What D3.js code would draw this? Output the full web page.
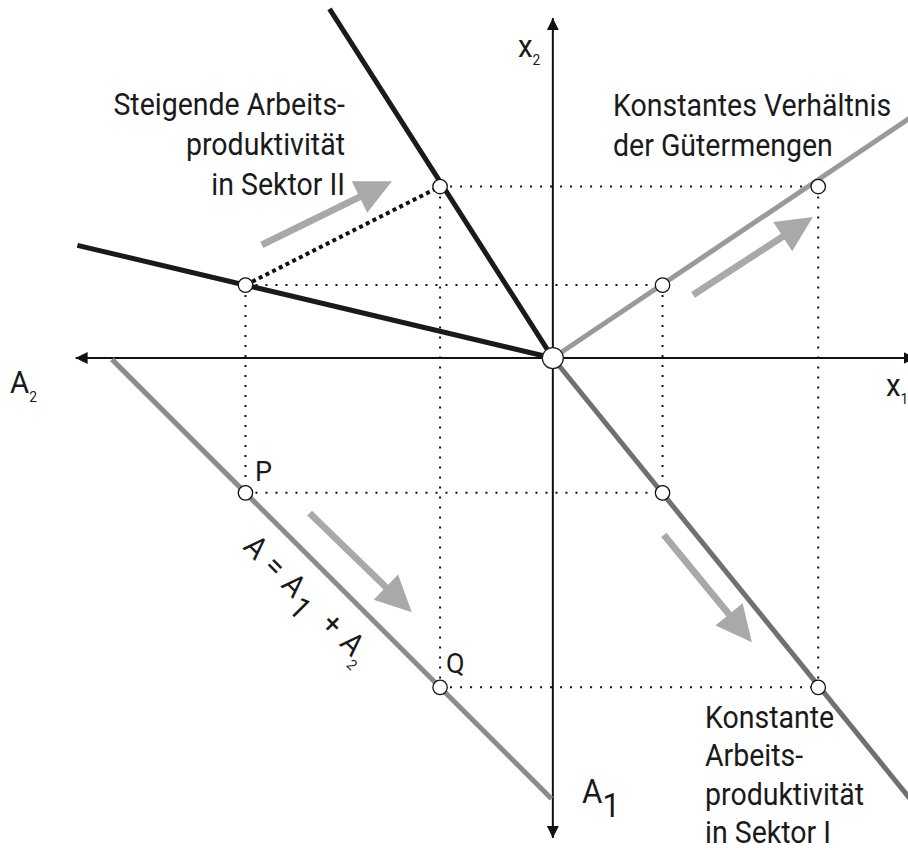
<!DOCTYPE html>
<html>
<head>
<meta charset="utf-8">
<script src="https://cdn.jsdelivr.net/npm/d3@7"></script>
<style>
  html, body { margin: 0; padding: 0; background: #ffffff; }
  svg { display: block; }
  text { font-family: Roboto, "Liberation Sans", sans-serif; fill: #1a1a1a; }
</style>
</head>
<body>
<svg id="chart" width="908" height="850"></svg>
<script>
(function () {
  'use strict';

  // --- Data (model units; horizontal: x1 right / A2 left, vertical: x2 up / A1 down) ---
  var laborII  = [6.95, 2.55];   // A2 before / after
  var laborI   = [3.05, 7.45];   // A1 before / after
  var outputI  = [2.48, 6.00];   // x1 before / after
  var outputII = [1.65, 3.88];   // x2 before / after

  // ray endpoints (start at origin)
  var raySektorIIold = [-10.75, 2.55];
  var raySektorIInew = [-5.05, 7.90];
  var rayRatio       = [8.10, 5.45];
  var raySektorI     = [8.10, -10.00];
  var budgetLine     = [[-9.97, -0.03], [-0.03, -9.97]];

  // gray direction arrows [start, tip]
  var moveArrows = [
    [[-6.58, 2.56], [-3.64, 4.00]],
    [[3.17, 1.43], [5.88, 3.19]],
    [[-5.50, -3.51], [-3.19, -5.75]],
    [[2.51, -4.00], [4.50, -6.43]]
  ];

  var W = 908, H = 850;
  var x = d3.scaleLinear().domain([-12.5, 8.03]).range([0, W]);
  var y = d3.scaleLinear().domain([8.1, -11.13]).range([0, H]);

  var svg = d3.select('#chart');
  var defs = svg.append('defs');
  defs.append('marker')
    .attr('id', 'axhead')
    .attr('viewBox', '0 0 12 12')
    .attr('refX', 12).attr('refY', 6)
    .attr('markerWidth', 12).attr('markerHeight', 12)
    .attr('markerUnits', 'userSpaceOnUse')
    .attr('orient', 'auto-start-reverse')
    .append('path')
    .attr('d', 'M0,0L12,6L0,12Z')
    .attr('fill', '#111');

  var gGrid  = svg.append('g');
  var gAxes  = svg.append('g');
  var gLines = svg.append('g');
  var gMarks = svg.append('g');
  var gText  = svg.append('g');

  // --- dotted guide lines ---
  var thin = [];
  [0, 1].forEach(function (i) {
    thin.push([[-laborII[i], outputII[i]], [outputI[i], outputII[i]]]);       // horizontal x2 level
    thin.push([[-laborII[i], outputII[i]], [-laborII[i], -laborI[i]]]);       // vertical A2
    thin.push([[outputI[i], outputII[i]], [outputI[i], -laborI[i]]]);         // vertical x1
    thin.push([[-laborII[i], -laborI[i]], [outputI[i], -laborI[i]]]);         // horizontal A1
  });
  gGrid.selectAll('line.dot')
    .data(thin)
    .enter().append('line')
    .attr('x1', function (d) { return x(d[0][0]); })
    .attr('y1', function (d) { return y(d[0][1]); })
    .attr('x2', function (d) { return x(d[1][0]); })
    .attr('y2', function (d) { return y(d[1][1]); })
    .attr('stroke', '#111')
    .attr('stroke-width', 2)
    .attr('stroke-dasharray', '2 8');

  // --- axes ---
  gAxes.append('line')
    .attr('x1', x(-10.79)).attr('y1', y(0))
    .attr('x2', x(8.2)).attr('y2', y(0))
    .attr('stroke', '#111').attr('stroke-width', 2)
    .attr('marker-start', 'url(#axhead)')
    .attr('marker-end', 'url(#axhead)');
  gAxes.append('line')
    .attr('x1', x(0)).attr('y1', y(-10.86))
    .attr('x2', x(0)).attr('y2', y(7.69))
    .attr('stroke', '#111').attr('stroke-width', 2)
    .attr('marker-start', 'url(#axhead)')
    .attr('marker-end', 'url(#axhead)');

  // --- model lines ---
  var rays = [
    { end: raySektorI,     color: '#707070' },
    { end: rayRatio,       color: '#9a9a9a' },
    { end: raySektorIIold, color: '#1a1a1a' },
    { end: raySektorIInew, color: '#1a1a1a' }
  ];
  gLines.append('line')
    .attr('x1', x(budgetLine[0][0])).attr('y1', y(budgetLine[0][1]))
    .attr('x2', x(budgetLine[1][0])).attr('y2', y(budgetLine[1][1]))
    .attr('stroke', '#8c8c8c').attr('stroke-width', 5);
  gLines.selectAll('line.ray')
    .data(rays)
    .enter().append('line')
    .attr('x1', x(0)).attr('y1', y(0))
    .attr('x2', function (d) { return x(d.end[0]); })
    .attr('y2', function (d) { return y(d.end[1]); })
    .attr('stroke', function (d) { return d.color; })
    .attr('stroke-width', 5);

  // thick dotted shift line in sector II
  gLines.append('line')
    .attr('x1', x(-laborII[0])).attr('y1', y(outputII[0]))
    .attr('x2', x(-laborII[1])).attr('y2', y(outputII[1]))
    .attr('stroke', '#111').attr('stroke-width', 4)
    .attr('stroke-dasharray', '4 3.5');

  // --- block arrows ---
  function blockArrow(s, t) {
    var x0 = x(s[0]), y0 = y(s[1]), x1 = x(t[0]), y1 = y(t[1]);
    var dx = x1 - x0, dy = y1 - y0, len = Math.sqrt(dx * dx + dy * dy);
    var ux = dx / len, uy = dy / len, px = -uy, py = ux;
    var hl = 36, hw = 17.5, sw = 3.4;
    var bx = x1 - ux * hl, by = y1 - uy * hl;
    var pts = [
      [x0 + px * sw, y0 + py * sw],
      [bx + px * sw, by + py * sw],
      [bx + px * hw, by + py * hw],
      [x1, y1],
      [bx - px * hw, by - py * hw],
      [bx - px * sw, by - py * sw],
      [x0 - px * sw, y0 - py * sw]
    ];
    return 'M' + pts.map(function (p) { return p[0].toFixed(1) + ',' + p[1].toFixed(1); }).join('L') + 'Z';
  }
  gMarks.selectAll('path.move')
    .data(moveArrows)
    .enter().append('path')
    .attr('d', function (d) { return blockArrow(d[0], d[1]); })
    .attr('fill', '#a9a9a9');

  // --- point circles ---
  var pts = [];
  [0, 1].forEach(function (i) {
    pts.push([-laborII[i], outputII[i]]);
    pts.push([outputI[i], outputII[i]]);
    pts.push([outputI[i], -laborI[i]]);
    pts.push([-laborII[i], -laborI[i]]);
  });
  gMarks.selectAll('circle.pt')
    .data(pts)
    .enter().append('circle')
    .attr('cx', function (d) { return x(d[0]); })
    .attr('cy', function (d) { return y(d[1]); })
    .attr('r', 7.2)
    .attr('fill', '#fff')
    .attr('stroke', '#111')
    .attr('stroke-width', 1.3);
  gMarks.append('circle')
    .attr('cx', x(0)).attr('cy', y(0))
    .attr('r', 10.5)
    .attr('fill', '#fff')
    .attr('stroke', '#222')
    .attr('stroke-width', 1.3);

  // --- text (condensed look: Roboto squeezed horizontally) ---
  var FS = 31, SQ = 0.92;
  function block(lines, px, py, anchor, lh) {
    var t = gText.append('text')
      .attr('transform', 'translate(' + px + ',' + py + ') scale(' + SQ + ',1)')
      .attr('text-anchor', anchor)
      .style('font-size', FS + 'px');
    lines.forEach(function (s, i) {
      t.append('tspan').attr('x', 0).attr('dy', i === 0 ? 0 : lh).text(s);
    });
  }
  block(['Steigende Arbeits-', 'produktivität', 'in Sektor II'], 345, 115, 'end', 40);
  block(['Konstantes Verhältnis', 'der Gütermengen'], 613, 116, 'start', 40);
  block(['Konstante', 'Arbeits-', 'produktivität', 'in Sektor I'], 705, 728, 'start', 38.5);

  gText.append('text').attr('x', 255).attr('y', 481).style('font-size', '27px').text('P');
  gText.append('text').attr('x', 446).attr('y', 673).style('font-size', '27px').text('Q');

  function sub(px, py, main, idx, fsMain, fsSub, dyS) {
    var t = gText.append('text')
      .attr('transform', 'translate(' + px + ',' + py + ') scale(' + SQ + ',1)')
      .style('font-size', fsMain + 'px');
    t.append('tspan').text(main);
    t.append('tspan').attr('dy', dyS).style('font-size', fsSub + 'px').text(idx);
  }
  sub(518, 57, 'x', '2', 32, 15, 8);
  sub(10, 393, 'A', '2', 32, 15, 9);
  sub(886, 396, 'x', '1', 32, 15, 8);
  sub(582, 803, 'A', '1', 34, 34, 14);

  // rotated equation along the budget line
  var eq = gText.append('text')
    .attr('transform', 'translate(242,548) rotate(45) scale(' + SQ + ',1)')
    .style('font-size', '31px')
    .style('letter-spacing', '1.5px');
  eq.append('tspan').text('A = A');
  eq.append('tspan').attr('dy', 12).attr('dx', 2).text('1');
  eq.append('tspan').attr('dy', -12).attr('dx', 18).text('+');
  eq.append('tspan').attr('dx', 10).text('A');
  eq.append('tspan').attr('dy', 10).style('font-size', '15px').text('2');
})();
</script>
</body>
</html>
